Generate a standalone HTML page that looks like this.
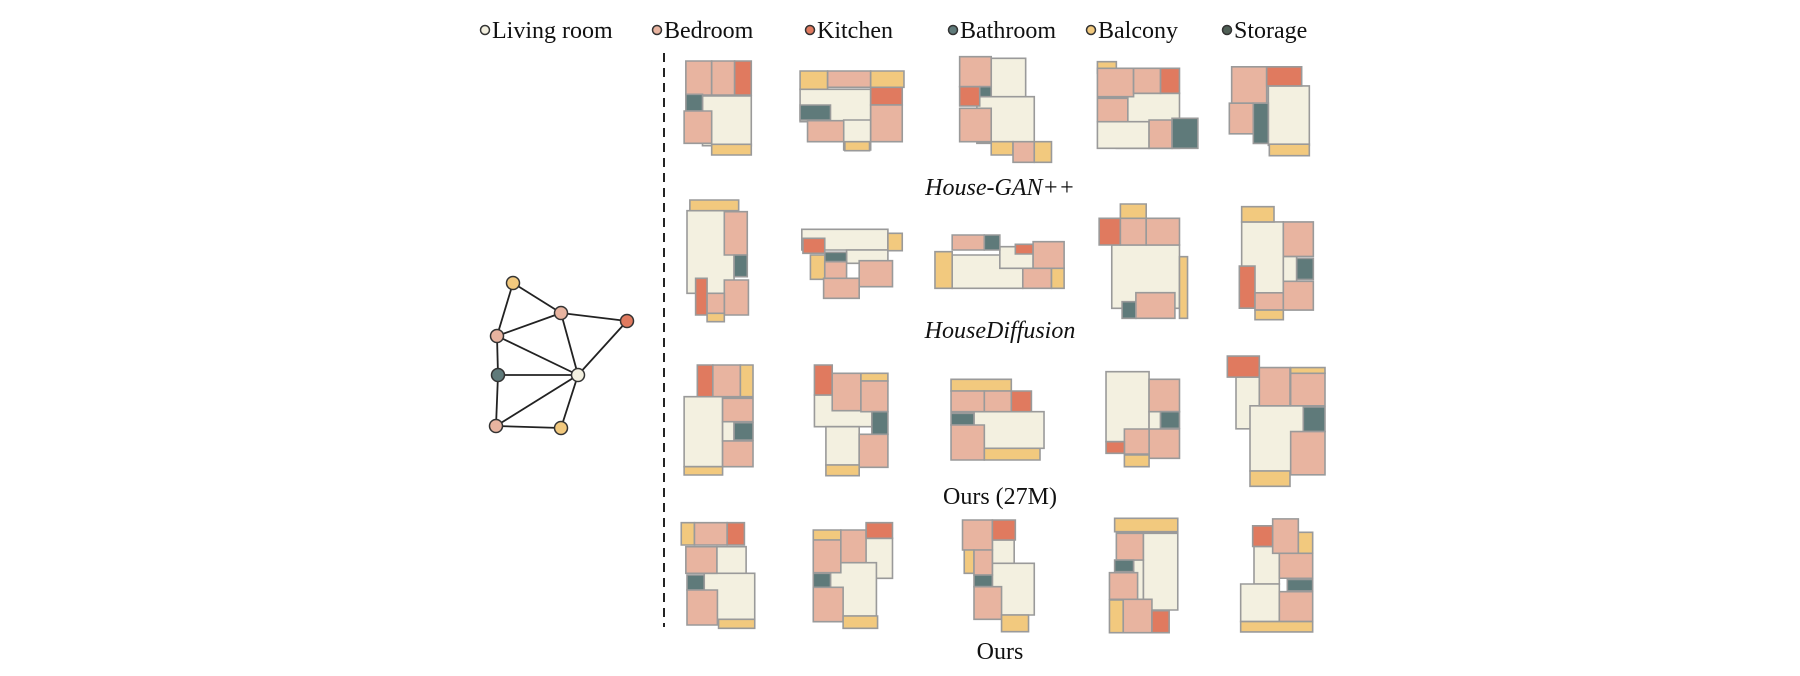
<!DOCTYPE html>
<html><head><meta charset="utf-8"><style>
html,body{margin:0;padding:0;background:#fff;width:1800px;height:676px;overflow:hidden}
svg text{font-family:"Liberation Serif",serif;font-size:24px;fill:#111}
</style></head><body>
<svg id="fig" width="1800" height="676" viewBox="0 0 1800 676" xmlns="http://www.w3.org/2000/svg">
<g>
 <circle cx="485" cy="30" r="4.5" fill="#f3f0e0" stroke="#333" stroke-width="1.5"/><text x="492" y="38">Living room</text>
 <circle cx="657" cy="30" r="4.5" fill="#e8b4a0" stroke="#333" stroke-width="1.5"/><text x="664" y="38">Bedroom</text>
 <circle cx="810" cy="30" r="4.5" fill="#e07a5f" stroke="#333" stroke-width="1.5"/><text x="817" y="38">Kitchen</text>
 <circle cx="953" cy="30" r="4.5" fill="#5f7a7a" stroke="#333" stroke-width="1.5"/><text x="960" y="38">Bathroom</text>
 <circle cx="1091" cy="30" r="4.5" fill="#f2c97e" stroke="#333" stroke-width="1.5"/><text x="1098" y="38">Balcony</text>
 <circle cx="1227" cy="30" r="4.5" fill="#4f5f55" stroke="#333" stroke-width="1.5"/><text x="1234" y="38">Storage</text>
</g>
<line x1="664" y1="53" x2="664" y2="627" stroke="#222" stroke-width="2" stroke-dasharray="9,6"/>
<g text-anchor="middle">
 <text x="1000" y="195" font-style="italic">House-GAN++</text>
 <text x="1000" y="338" font-style="italic">HouseDiffusion</text>
 <text x="1000" y="504">Ours (27M)</text>
 <text x="1000" y="659">Ours</text>
</g>
<g id="graph"></g>
<g id="plansA" transform="translate(400,0) scale(0.574,0.33333)"></g>
<g id="plansB" transform="translate(400,330) scale(0.574,0.33333)"></g>
<g id="plansC" transform="translate(1200,40) scale(0.33333,0.3831)"></g>
</svg>
<script>
const colors={L:"#f3f0e0",B:"#e8b4a0",K:"#e07a5f",T:"#5f7a7a",Y:"#f2c97e"};
const nodeTypes=["Y","B","K","B","T","L","B","Y"];
const nodeX=[513,561,627,497,498,578,496,561];
const nodeY=[283,313,321,336,375,375,426,428];
const edges=[[0,1],[0,3],[1,2],[1,3],[1,5],[2,5],[3,5],[3,4],[4,5],[4,6],[6,5],[6,7],[7,5]];
const plansA=[
 [["B",498,183,543,285],["B",543,183,583,285],["K",583,183,612,285],["L",527,288,612,437],["T",498,283,527,333],["B",495,333,543,430],["Y",543,433,612,465]],
 [["Y",697,213,745,268],["B",745,213,820,262],["Y",820,213,878,262],["L",697,268,820,365],["L",773,360,820,450],["T",697,315,750,360],["B",710,362,773,425],["K",820,262,875,315],["B",820,315,875,425],["Y",775,425,818,452]],
 [["L",1030,175,1090,310],["L",1005,290,1105,430],["B",975,170,1030,260],["K",975,260,1010,318],["T",1010,260,1030,290],["B",975,325,1030,425],["Y",1030,425,1068,465],["B",1068,425,1105,487],["Y",1105,425,1135,487]],
 [["L",1248,280,1358,445],["L",1215,365,1305,445],["Y",1215,185,1248,220],["B",1215,205,1278,290],["B",1278,205,1325,280],["K",1325,205,1358,280],["B",1215,295,1268,365],["B",1305,360,1345,445],["T",1345,355,1390,445]],
 [["L",500,632,582,880],["Y",505,600,590,632],["B",565,635,605,765],["T",582,765,605,830],["B",565,840,607,945],["K",515,835,535,945],["B",535,880,565,940],["Y",535,940,565,965]],
 [["L",700,688,850,750],["L",778,750,850,790],["Y",850,700,875,752],["K",702,715,740,760],["T",740,757,778,785],["Y",715,765,740,838],["B",740,785,778,838],["B",800,782,858,860],["B",738,835,800,895]],
 [["L",962,765,1085,865],["L",1045,740,1103,805],["Y",932,755,962,865],["B",962,705,1018,750],["T",1018,705,1045,750],["K",1072,733,1103,762],["B",1103,725,1157,805],["B",1085,805,1135,865],["Y",1135,805,1157,865]],
 [["L",1240,735,1358,925],["Y",1255,612,1300,655],["K",1218,655,1255,735],["B",1255,655,1300,735],["B",1300,655,1358,735],["Y",1358,770,1372,955],["T",1258,905,1282,955],["B",1282,878,1350,955]]
];
const plansB=[
 [["L",495,200,562,410],["L",562,275,582,333],["K",518,105,545,200],["B",545,105,593,200],["Y",593,105,615,200],["B",562,205,615,275],["T",582,278,615,330],["B",562,333,615,410],["Y",495,410,562,435]],
 [["L",722,195,822,290],["L",742,290,800,405],["K",722,105,753,195],["B",753,130,803,242],["Y",803,130,850,153],["B",803,153,850,245],["T",822,245,850,313],["B",800,313,850,412],["Y",742,405,800,437]],
 [["L",1000,245,1122,355],["Y",960,148,1065,183],["B",960,183,1018,245],["B",1018,183,1065,245],["K",1065,183,1100,245],["T",960,250,1000,285],["B",960,285,1018,390],["Y",1018,355,1115,390]],
 [["L",1230,125,1305,335],["L",1305,245,1325,300],["B",1305,148,1358,245],["T",1325,245,1358,295],["B",1305,297,1358,385],["B",1262,297,1305,372],["K",1230,335,1262,370],["Y",1262,375,1305,410]],
 [["L",552,650,603,730],["L",530,730,618,868],["Y",490,578,513,645],["B",513,578,570,645],["K",570,578,600,645],["B",498,650,552,730],["T",500,735,530,780],["B",500,780,553,885],["Y",555,868,618,895]],
 [["L",768,625,858,745],["L",750,698,830,858],["Y",720,600,768,630],["B",720,630,768,728],["B",768,600,812,698],["K",812,578,858,625],["T",720,730,750,772],["B",720,772,772,875],["Y",772,858,832,895]],
 [["L",1032,630,1070,700],["L",1032,700,1105,855],["B",980,570,1032,660],["K",1032,570,1072,630],["Y",983,660,1000,730],["B",1000,660,1032,735],["T",1000,735,1032,770],["B",1000,770,1048,868],["Y",1048,855,1095,905]],
 [["L",1295,610,1355,840],["L",1278,690,1295,810],["Y",1245,565,1355,605],["B",1248,610,1295,690],["T",1245,690,1278,725],["B",1236,728,1285,808],["Y",1236,810,1260,908],["B",1260,808,1310,908],["K",1310,842,1340,908]]
];
const plansC=[
 [["L",205,120,328,275],["B",95,70,200,165],["K",200,70,305,120],["B",88,165,160,245],["T",160,165,205,270],["Y",208,272,328,302]],
 [["L",125,475,250,660],["L",250,565,290,630],["Y",125,435,222,475],["B",250,475,340,565],["T",290,570,340,625],["K",118,590,165,700],["B",165,660,250,705],["B",250,630,340,705],["Y",165,705,250,730]],
 [["L",108,880,178,1015],["L",150,955,310,1125],["K",82,825,178,880],["B",178,855,270,955],["Y",272,855,375,870],["B",272,870,375,955],["T",310,958,375,1022],["B",272,1022,375,1135],["Y",150,1125,270,1165]],
 [["L",162,1322,238,1420],["L",122,1420,238,1518],["K",158,1268,218,1322],["B",218,1250,295,1340],["Y",295,1285,338,1340],["B",238,1340,338,1405],["T",262,1408,338,1438],["B",238,1440,338,1518],["Y",122,1518,338,1545]]
];
const NS="http://www.w3.org/2000/svg";
function drawPlans(id,plans,prefix){
 const g=document.getElementById(id);
 plans.forEach((p,i)=>{
  const pg=document.createElementNS(NS,"g");
  
  
  p.forEach(r=>{
   const e=document.createElementNS(NS,"rect");
   
   
   e.setAttribute("x",r[1]);e.setAttribute("y",r[2]);
   e.setAttribute("width",r[3]-r[1]);e.setAttribute("height",r[4]-r[2]);
   e.setAttribute("fill",colors[r[0]]);e.setAttribute("stroke","#9a9a9a");
   e.setAttribute("stroke-width","1.6");e.setAttribute("vector-effect","non-scaling-stroke");
   pg.appendChild(e);
  });
  g.appendChild(pg);
 });
}
drawPlans("plansA",plansA,"upper");
drawPlans("plansB",plansB,"lower");
drawPlans("plansC",plansC,"right");
const gg=document.getElementById("graph");
edges.forEach(e=>{
 const l=document.createElementNS(NS,"line");
 
 
 l.setAttribute("x1",nodeX[e[0]]);l.setAttribute("y1",nodeY[e[0]]);
 l.setAttribute("x2",nodeX[e[1]]);l.setAttribute("y2",nodeY[e[1]]);
 l.setAttribute("stroke","#222");l.setAttribute("stroke-width","1.8");
 gg.appendChild(l);
});
nodeTypes.forEach((t,i)=>{
 const c=document.createElementNS(NS,"circle");
 
 
 c.setAttribute("cx",nodeX[i]);c.setAttribute("cy",nodeY[i]);c.setAttribute("r","6.5");
 c.setAttribute("fill",colors[t]);c.setAttribute("stroke","#333");c.setAttribute("stroke-width","1.5");
 gg.appendChild(c);
});
</script>
</body></html>
